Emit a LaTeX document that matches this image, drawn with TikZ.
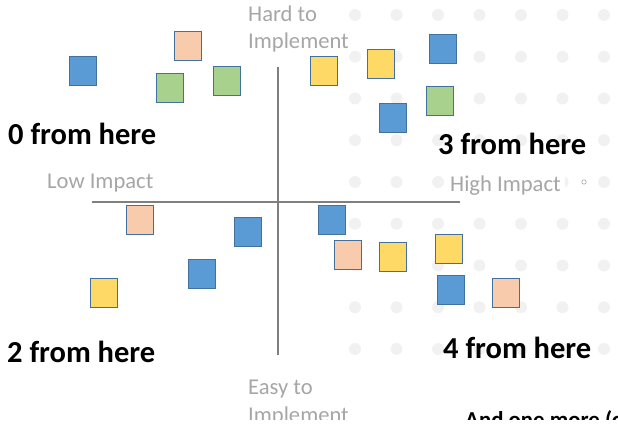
\documentclass[tikz,border=0pt]{standalone}
\usepackage{fontspec}
\setmainfont{Carlito}
\begin{document}
\begin{tikzpicture}[x=1pt,y=-1pt,
  note/.style={draw=noteedge,line width=1.2pt,minimum width=27pt,minimum height=29pt,inner sep=0pt},
  blue/.style={note,fill=noteblue},
  peach/.style={note,fill=notepeach},
  yellow/.style={note,fill=noteyellow},
  green/.style={note,fill=notegreen},
  axislabel/.style={text=labelgray,font=\fontsize{22.6}{27}\selectfont,inner sep=0pt,anchor=base west},
  count/.style={text=black,font=\fontsize{30.5}{36}\selectfont\bfseries,inner sep=0pt,anchor=base west},
  gridpt/.style={fill=dotgray,draw=none},
  axisline/.style={draw=axisgray,line width=1.4pt}]
\definecolor{noteedge}{HTML}{41719C}
\definecolor{noteblue}{HTML}{5B9BD5}
\definecolor{notepeach}{HTML}{F8CBAD}
\definecolor{noteyellow}{HTML}{FFD966}
\definecolor{notegreen}{HTML}{A9D18E}
\definecolor{labelgray}{HTML}{A6A6A6}
\definecolor{dotgray}{HTML}{F1F1F1}
\definecolor{axisgray}{HTML}{7F7F7F}

\useasboundingbox (0,0) rectangle (618,427);
\clip (0,0) rectangle (618,419);

% dotted background grid on the right
\foreach \r in {0,...,8}{
  \foreach \c in {0,...,6}{
    \fill[gridpt] ({355+41.5*\c},{15+41.75*\r}) circle (6);
  }
}
\draw[draw=labelgray,line width=0.6pt] (584,182) circle (2.2);

% axes
\coordinate (hl) at (92,202);
\coordinate (hr) at (460,202);
\coordinate (vt) at (278,67);
\coordinate (vb) at (278,355);
\draw[axisline] (hl) -- (hr);
\draw[axisline] (vt) -- (vb);

% axis labels
\node[axislabel] (hard1) at (248,22) {Hard to};
\node[axislabel] (hard2) at (248,49) {Implement};
\node[axislabel] (low) at (47,189) {Low Impact};
\node[axislabel,fill=white,inner xsep=4pt,inner ysep=2pt] (high) at (446,192) {High Impact};
\node[axislabel] (easy1) at (248,394) {Easy to};
\node[axislabel] (easy2) at (248,422) {Implement};

% quadrant counts
\node[count] (q0) at (8,145) {0 from here};
\node[count] (q3) at (438,155) {3 from here};
\node[count] (q2) at (7,362) {2 from here};
\node[count] (q4) at (443,359) {4 from here};
\node[text=black,font=\fontsize{22.8}{27}\selectfont\bfseries,inner sep=0pt,anchor=base west] (more) at (465,427) {And one more (o};

% notes, upper left
\node[blue]   (ul1) at (83,71) {};
\node[peach]  (ul2) at (188,46) {};
\node[green]  (ul3) at (170,88) {};
\node[green]  (ul4) at (227,81) {};

% notes, upper right
\node[yellow] (ur1) at (324,71) {};
\node[yellow] (ur2) at (381,64) {};
\node[blue]   (ur3) at (443,49) {};
\node[green]  (ur4) at (440,101) {};
\node[blue]   (ur5) at (393,118) {};

% notes, lower left
\node[peach]  (ll1) at (140,220) {};
\node[blue]   (ll2) at (248,232) {};
\node[blue]   (ll3) at (202,274) {};
\node[yellow] (ll4) at (104,293) {};

% notes, lower right
\node[blue]   (lr1) at (332,220) {};
\node[peach]  (lr2) at (348,255) {};
\node[yellow] (lr3) at (393,257) {};
\node[yellow] (lr4) at (449,249) {};
\node[blue]   (lr5) at (451,290) {};
\node[peach]  (lr6) at (506,293) {};
\end{tikzpicture}
\end{document}
